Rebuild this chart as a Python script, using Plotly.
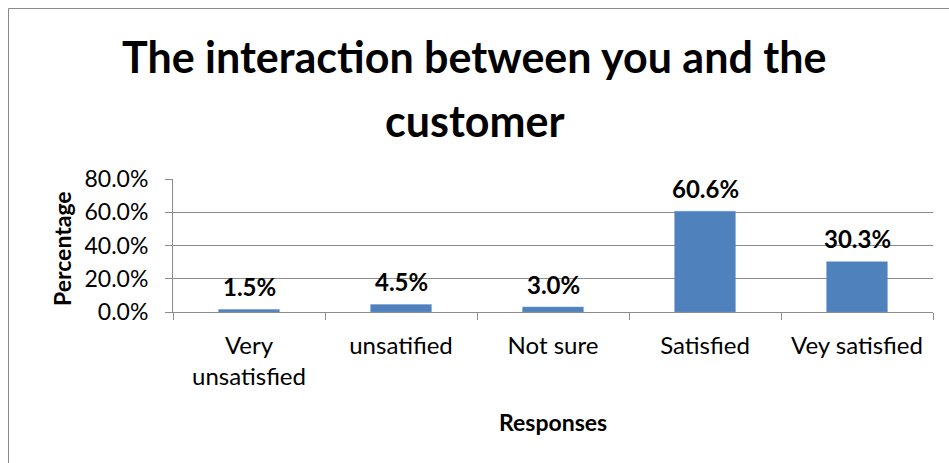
import plotly.graph_objects as go

# Survey results
categories = ["Very<br>unsatisfied", "unsatified", "Not sure", "Satisfied", "Vey satisfied"]
percentages = [0.015, 0.045, 0.030, 0.606, 0.303]
y_ticks = [0.0, 0.2, 0.4, 0.6, 0.8]
y_tick_labels = ["0.0%", "20.0%", "40.0%", "60.0%", "80.0%"]
title_lines = ["The interaction between you and the", "customer"]

W, H = 949, 463
ML, MR, MT, MB = 173, 16, 179, 151
FONT = "Lato"
BAR = "#4F81BD"
GRID = "#8C8C8C"

pw, ph = W - ML - MR, H - MT - MB
def px_x(p):
    return (p - ML) / pw
def px_y(p):
    return (H - MB - p) / ph

fig = go.Figure(
    go.Bar(
        x=categories,
        y=percentages,
        marker=dict(color=BAR, line=dict(color="#6C9AD2", width=0.5)),
        width=0.4,
        hoverinfo="skip",
    )
)

# value labels above each bar
for c, v in zip(categories, percentages):
    fig.add_annotation(
        x=c, y=v, xref="x", yref="y",
        text=f"<b>{v * 100:.1f}%</b>",
        showarrow=False, yanchor="middle", yshift=23,
        font=dict(family=FONT, size=24, color="#000"),
    )

# two-line chart title
for line, cy in zip(title_lines, [56, 120]):
    fig.add_annotation(
        x=px_x(W / 2), y=px_y(cy), xref="paper", yref="paper",
        text=f"<b>{line}</b>", showarrow=False,
        xanchor="center", yanchor="middle",
        font=dict(family=FONT, size=43, color="#000"),
    )

# axis titles
fig.add_annotation(
    x=px_x(553), y=px_y(422), xref="paper", yref="paper",
    text="<b>Responses</b>", showarrow=False,
    xanchor="center", yanchor="middle",
    font=dict(family=FONT, size=23, color="#000"),
)
fig.add_annotation(
    x=px_x(62), y=px_y(248), xref="paper", yref="paper",
    text="<b>Percentage</b>", showarrow=False, textangle=-90,
    xanchor="center", yanchor="middle",
    font=dict(family=FONT, size=23, color="#000"),
)

# outer chart border
fig.add_shape(
    type="rect", xref="paper", yref="paper",
    x0=px_x(8.5), x1=px_x(W + 20), y0=px_y(H + 20), y1=px_y(8.5),
    line=dict(color="#8A8A8A", width=1), fillcolor="rgba(0,0,0,0)", layer="below",
)

fig.update_layout(
    width=W, height=H,
    margin=dict(l=ML, r=MR, t=MT, b=MB),
    paper_bgcolor="white", plot_bgcolor="white",
    showlegend=False,
    font=dict(family=FONT, color="#000"),
    xaxis=dict(
        showgrid=False,
        showline=True, linecolor=GRID, linewidth=1,
        ticks="outside", tickson="boundaries", ticklen=7, tickcolor=GRID,
        ticklabelstandoff=12,
        tickfont=dict(family=FONT, size=24, color="#000"),
    ),
    yaxis=dict(
        range=[0, 0.8],
        tickvals=y_ticks, ticktext=y_tick_labels,
        showgrid=True, gridcolor=GRID, gridwidth=1,
        showline=True, linecolor=GRID, linewidth=1,
        ticks="outside", ticklen=7, tickcolor=GRID,
        ticklabelstandoff=12,
        tickfont=dict(family=FONT, size=23, color="#000"),
        zeroline=False,
    ),
)

fig.write_html("out.html")
